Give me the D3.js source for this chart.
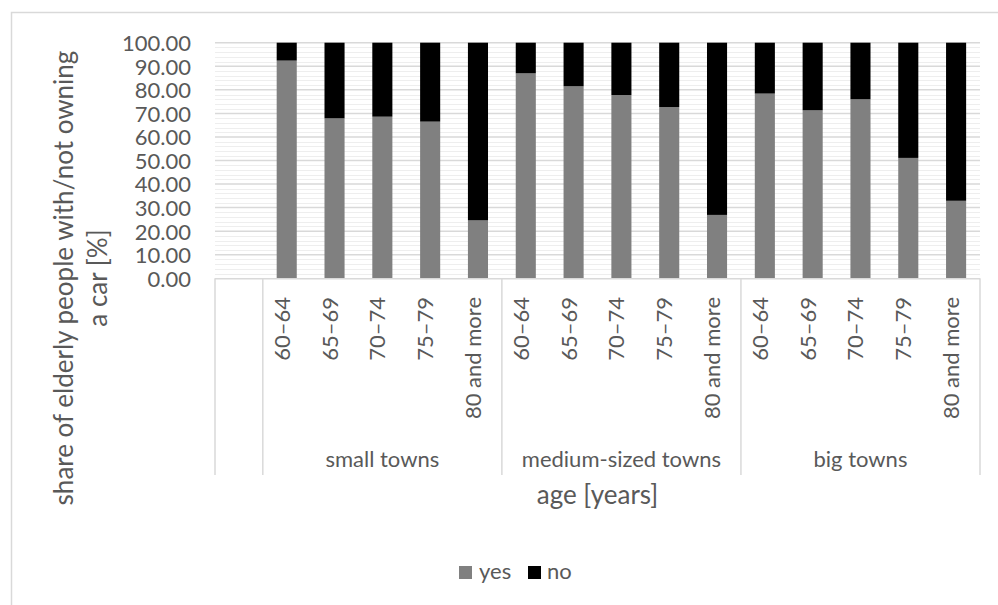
<!DOCTYPE html>
<html>
<head>
<meta charset="utf-8">
<script src="https://cdn.jsdelivr.net/npm/d3@7"></script>
<style>
  html, body { margin: 0; padding: 0; background: #fff; }
  svg { display: block; }
  text { font-family: Lato, "Open Sans", sans-serif; fill: #595959; }
</style>
</head>
<body>
<svg id="chart" width="998" height="605"></svg>
<script>
// Car ownership among elderly people by town size and age group (%)
const towns = ["small towns", "medium-sized towns", "big towns"];
const ages = ["60–64", "65–69", "70–74", "75–79", "80 and more"];
const yesSmall  = [92.4, 67.9, 68.6, 66.5, 24.6];
const noSmall   = [7.6, 32.1, 31.4, 33.5, 75.4];
const yesMedium = [87.0, 81.5, 77.8, 72.7, 26.9];
const noMedium  = [13.0, 18.5, 22.2, 27.3, 73.1];
const yesBig    = [78.4, 71.3, 76.0, 51.1, 32.9];
const noBig     = [21.6, 28.7, 24.0, 48.9, 67.1];
const seriesNames = ["yes", "no"];
const yTicks = [0, 10, 20, 30, 40, 50, 60, 70, 80, 90, 100];

const yesByTown = [yesSmall, yesMedium, yesBig];
const noByTown = [noSmall, noMedium, noBig];

// Flat rows: one per (town, age); a blank leading slot precedes the groups
const rows = [];
towns.forEach((t, ti) => ages.forEach((a, ai) => {
  rows.push({ key: t + "|" + a, town: t, age: a, yes: yesByTown[ti][ai], no: noByTown[ti][ai] });
}));
const keys = ["__blank__"].concat(rows.map(r => r.key));

const svg = d3.select("#chart");
const colors = { yes: "#808080", no: "#000000" };
const labelSize = "22px", titleSize = "26px";

// chart frame
svg.append("rect").attr("x", 11.5).attr("y", 12.5).attr("width", 1100).attr("height", 700)
  .attr("fill", "none").attr("stroke", "#d9d9d9").attr("stroke-width", 1.5);

const plotLeft = 215, plotRight = 980, plotTop = 42.7, plotBottom = 278.3, axisBottom = 475;

const x = d3.scaleBand().domain(keys).range([plotLeft, plotRight])
  .paddingInner(0.58).paddingOuter(0.29);
const y = d3.scaleLinear().domain([0, 100]).range([plotBottom, plotTop]);

// minor gridlines every 2, major every 10
const minor = d3.range(2, 100, 2).filter(v => v % 10 !== 0);
svg.append("g").selectAll("line").data(minor).join("line")
  .attr("x1", plotLeft).attr("x2", plotRight)
  .attr("y1", d => Math.round(y(d)) + 0.5).attr("y2", d => Math.round(y(d)) + 0.5)
  .attr("stroke", "#eeeeee").attr("stroke-width", 1);
svg.append("g").selectAll("line").data(yTicks.filter(v => v > 0)).join("line")
  .attr("x1", plotLeft).attr("x2", plotRight)
  .attr("y1", d => y(d)).attr("y2", d => y(d))
  .attr("stroke", "#d9d9d9").attr("stroke-width", 1.5);

// y axis labels
const yAxis = d3.axisLeft(y).tickValues(yTicks).tickFormat(d3.format(".2f")).tickSize(0).tickPadding(0);
const gy = svg.append("g").attr("transform", `translate(${plotLeft - 24},0)`).call(yAxis);
gy.select(".domain").remove();
gy.selectAll("text").style("font-size", labelSize).attr("fill", "#595959")
  .attr("font-family", "Lato, sans-serif").attr("dy", "0.36em");

// stacked bars
const stack = d3.stack().keys(seriesNames);
const stacked = stack(rows);
svg.append("g").selectAll("g").data(stacked).join("g")
  .attr("fill", s => colors[s.key])
  .selectAll("rect").data(s => s).join("rect")
  .attr("x", d => x(d.data.key))
  .attr("width", x.bandwidth())
  .attr("y", d => y(d[1]))
  .attr("height", d => y(d[0]) - y(d[1]));

// category axis line
svg.append("line").attr("x1", plotLeft).attr("x2", plotRight)
  .attr("y1", plotBottom + 0.5).attr("y2", plotBottom + 0.5)
  .attr("stroke", "#d9d9d9").attr("stroke-width", 1.5);

// group separators
const step = x.step();
const slotStart = k => x(k) - step * x.paddingOuter();
const boundaries = [slotStart("__blank__")]
  .concat(towns.map(t => slotStart(t + "|" + ages[0])))
  .concat([plotRight]);
svg.append("g").selectAll("line").data(boundaries).join("line")
  .attr("x1", d => d).attr("x2", d => d)
  .attr("y1", plotBottom).attr("y2", axisBottom)
  .attr("stroke", "#d9d9d9").attr("stroke-width", 1.5);

// age labels (rotated)
svg.append("g").selectAll("text").data(rows).join("text")
  .attr("transform", d => `translate(${x(d.key) + x.bandwidth() / 2 + 3},297) rotate(-90)`)
  .attr("text-anchor", "end")
  .style("font-size", labelSize)
  .text(d => d.age);

// town labels
svg.append("g").selectAll("text").data(towns).join("text")
  .attr("x", t => slotStart(t + "|" + ages[0]) + step * ages.length / 2)
  .attr("y", 467)
  .attr("text-anchor", "middle")
  .style("font-size", labelSize)
  .text(t => t);

// axis titles
svg.append("text").attr("x", (plotLeft + plotRight) / 2).attr("y", 504).attr("text-anchor", "middle")
  .style("font-size", titleSize).text("age [years]");

const yTitle = svg.append("text")
  .attr("transform", "translate(73,278) rotate(-90)")
  .attr("text-anchor", "middle")
  .style("font-size", titleSize);
yTitle.append("tspan").attr("x", 0).attr("dy", 0).text("share of elderly people with/not owning");
yTitle.append("tspan").attr("x", 0).attr("dy", 34).text("a car [%]");

// legend
const legend = svg.append("g");
const legendItems = [
  { name: "yes", sx: 459, tx: 479 },
  { name: "no", sx: 528, tx: 547 }
];
legend.selectAll("rect").data(legendItems).join("rect")
  .attr("x", d => d.sx).attr("y", 566).attr("width", 13).attr("height", 13)
  .attr("fill", d => colors[d.name]);
legend.selectAll("text").data(legendItems).join("text")
  .attr("x", d => d.tx).attr("y", 579)
  .style("font-size", labelSize)
  .text(d => d.name);
</script>
</body>
</html>
